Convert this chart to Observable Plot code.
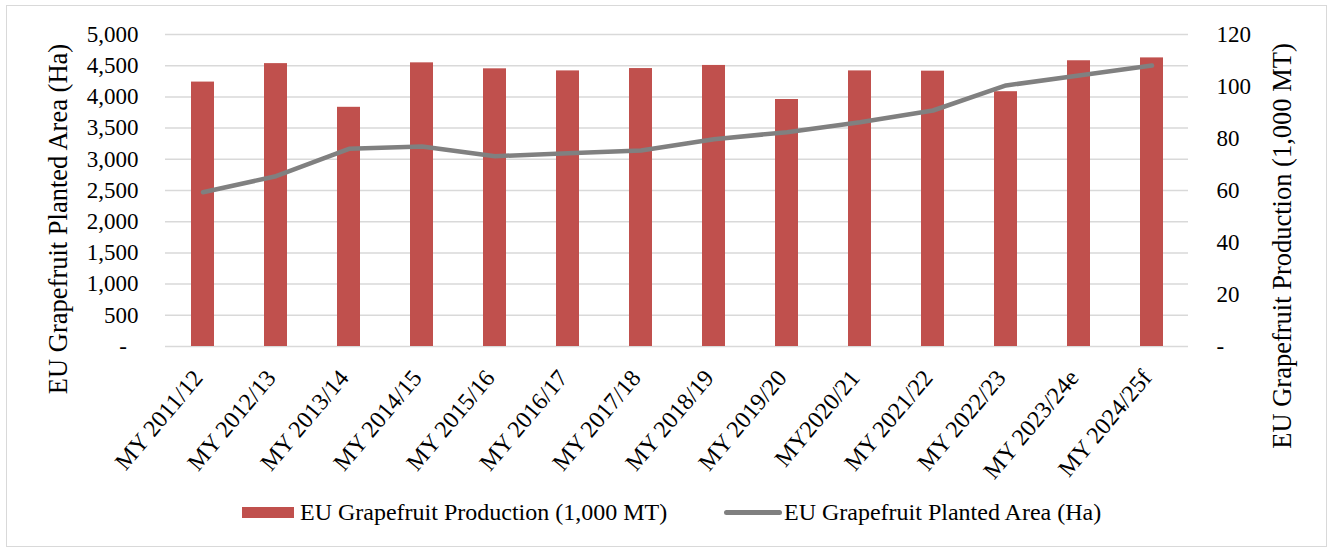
<!DOCTYPE html>
<html>
<head>
<meta charset="utf-8">
<script src="https://cdn.jsdelivr.net/npm/d3@7"></script>
<script src="https://cdn.jsdelivr.net/npm/@observablehq/plot@0.6"></script>
<style>
  body { margin: 0; background: #fff; }
  #wrap { position: relative; width: 1330px; height: 548px; font-family: "Liberation Serif", "Times New Roman", serif; color: #000; }
  #frame { position: absolute; left: 6px; top: 5px; width: 1321px; height: 542px; border: 1px solid #d9d9d9; box-sizing: border-box; }
  #chart { position: absolute; left: 0; top: 0; }
  #legend { position: absolute; left: 0; top: 496px; width: 1330px; height: 32px; font-size: 24px; }
  .item { position: absolute; top: 0; height: 32px; display: flex; align-items: center; white-space: nowrap; }
  .sw-bar { width: 52px; height: 11px; background: #c0504d; margin-right: 6px; }
  .sw-line { width: 58px; height: 5px; border-radius: 3px; background: #808080; margin-right: 2px; }
</style>
</head>
<body>
<div id="wrap">
  <div id="frame"></div>
  <div id="chart"></div>
  <div id="legend"></div>
</div>
<script>
// ---- data ----
const categories = ["MY 2011/12", "MY 2012/13", "MY 2013/14", "MY 2014/15", "MY 2015/16", "MY 2016/17", "MY 2017/18", "MY 2018/19", "MY 2019/20", "MY2020/21", "MY 2021/22", "MY 2022/23", "MY 2023/24e", "MY 2024/25f"];
const production = [101.7, 108.8, 92.0, 109.1, 106.8, 106.0, 106.9, 108.1, 95.0, 106.0, 105.9, 98.0, 109.9, 111.0]; // 1,000 MT (right axis)
const plantedArea = [2473, 2729, 3168, 3205, 3050, 3098, 3141, 3322, 3435, 3595, 3782, 4183, 4343, 4503]; // Ha (left axis)
const leftTicks = [0, 500, 1000, 1500, 2000, 2500, 3000, 3500, 4000, 4500, 5000];
const rightTicks = [0, 20, 40, 60, 80, 100, 120];
const seriesNames = ["EU Grapefruit Production (1,000 MT)", "EU Grapefruit Planted Area (Ha)"];
const leftTitle = "EU Grapefruit Planted Area (Ha)";
const rightTitle = "EU Grapefruit Production (1,000 MT)";

const leftMax = 5000, rightMax = 120;
const k = leftMax / rightMax; // right-axis units -> left-axis units
const data = categories.map((c, i) => ({cat: c, prod: production[i], area: plantedArea[i]}));
const FONT = '"Liberation Serif", "Times New Roman", serif';

const plot = Plot.plot({
  width: 1330,
  height: 480,
  marginLeft: 165,
  marginRight: 142,
  marginTop: 34,
  marginBottom: 134,
  style: {fontFamily: FONT, fontSize: "23px", color: "#000", background: "transparent", overflow: "visible"},
  x: {domain: categories, paddingInner: 0.685, paddingOuter: 0.3425, axis: null},
  y: {domain: [0, leftMax], axis: null},
  marks: [
    Plot.ruleY(leftTicks, {stroke: "#d9d9d9", strokeWidth: 1.5}),
    Plot.barY(data, {x: "cat", y: d => d.prod * k, fill: "#c0504d"}),
    Plot.lineY(data, {x: "cat", y: "area", stroke: "#808080", strokeWidth: 4.5, strokeLinecap: "round", strokeLinejoin: "round"}),
    Plot.axisY({anchor: "left", ticks: leftTicks, tickSize: 0, tickPadding: 27, label: null, fill: "#000",
      tickFormat: v => v === 0 ? "-\u2002" : d3.format(",")(v)}),
    Plot.axisY({anchor: "right", ticks: rightTicks.map(v => v * k), tickSize: 0, tickPadding: 28, label: null, fill: "#000",
      tickFormat: v => { const p = Math.round(v / k); return p === 0 ? "-" : String(p); }}),
    Plot.axisX({anchor: "bottom", tickRotate: -50, tickSize: 0, tickPadding: 27, dx: -5, label: null, fill: "#000", fontSize: 24})
  ]
});
document.getElementById("chart").appendChild(plot);

// axis titles
const svg = d3.select(plot);
svg.append("text")
  .attr("transform", "translate(67,219) rotate(-90)")
  .attr("text-anchor", "middle")
  .attr("font-family", FONT).attr("font-size", 26.5).attr("fill", "#000")
  .text(leftTitle);
svg.append("text")
  .attr("transform", "translate(1291,246) rotate(-90)")
  .attr("text-anchor", "middle")
  .attr("font-family", FONT).attr("font-size", 26.5).attr("fill", "#000")
  .text(rightTitle);

// legend
const legend = document.getElementById("legend");
legend.innerHTML =
  `<div class="item" style="left:242px"><span class="sw-bar"></span><span>${seriesNames[0]}</span></div>` +
  `<div class="item" style="left:724px"><span class="sw-line"></span><span>${seriesNames[1]}</span></div>`;
</script>
</body>
</html>
